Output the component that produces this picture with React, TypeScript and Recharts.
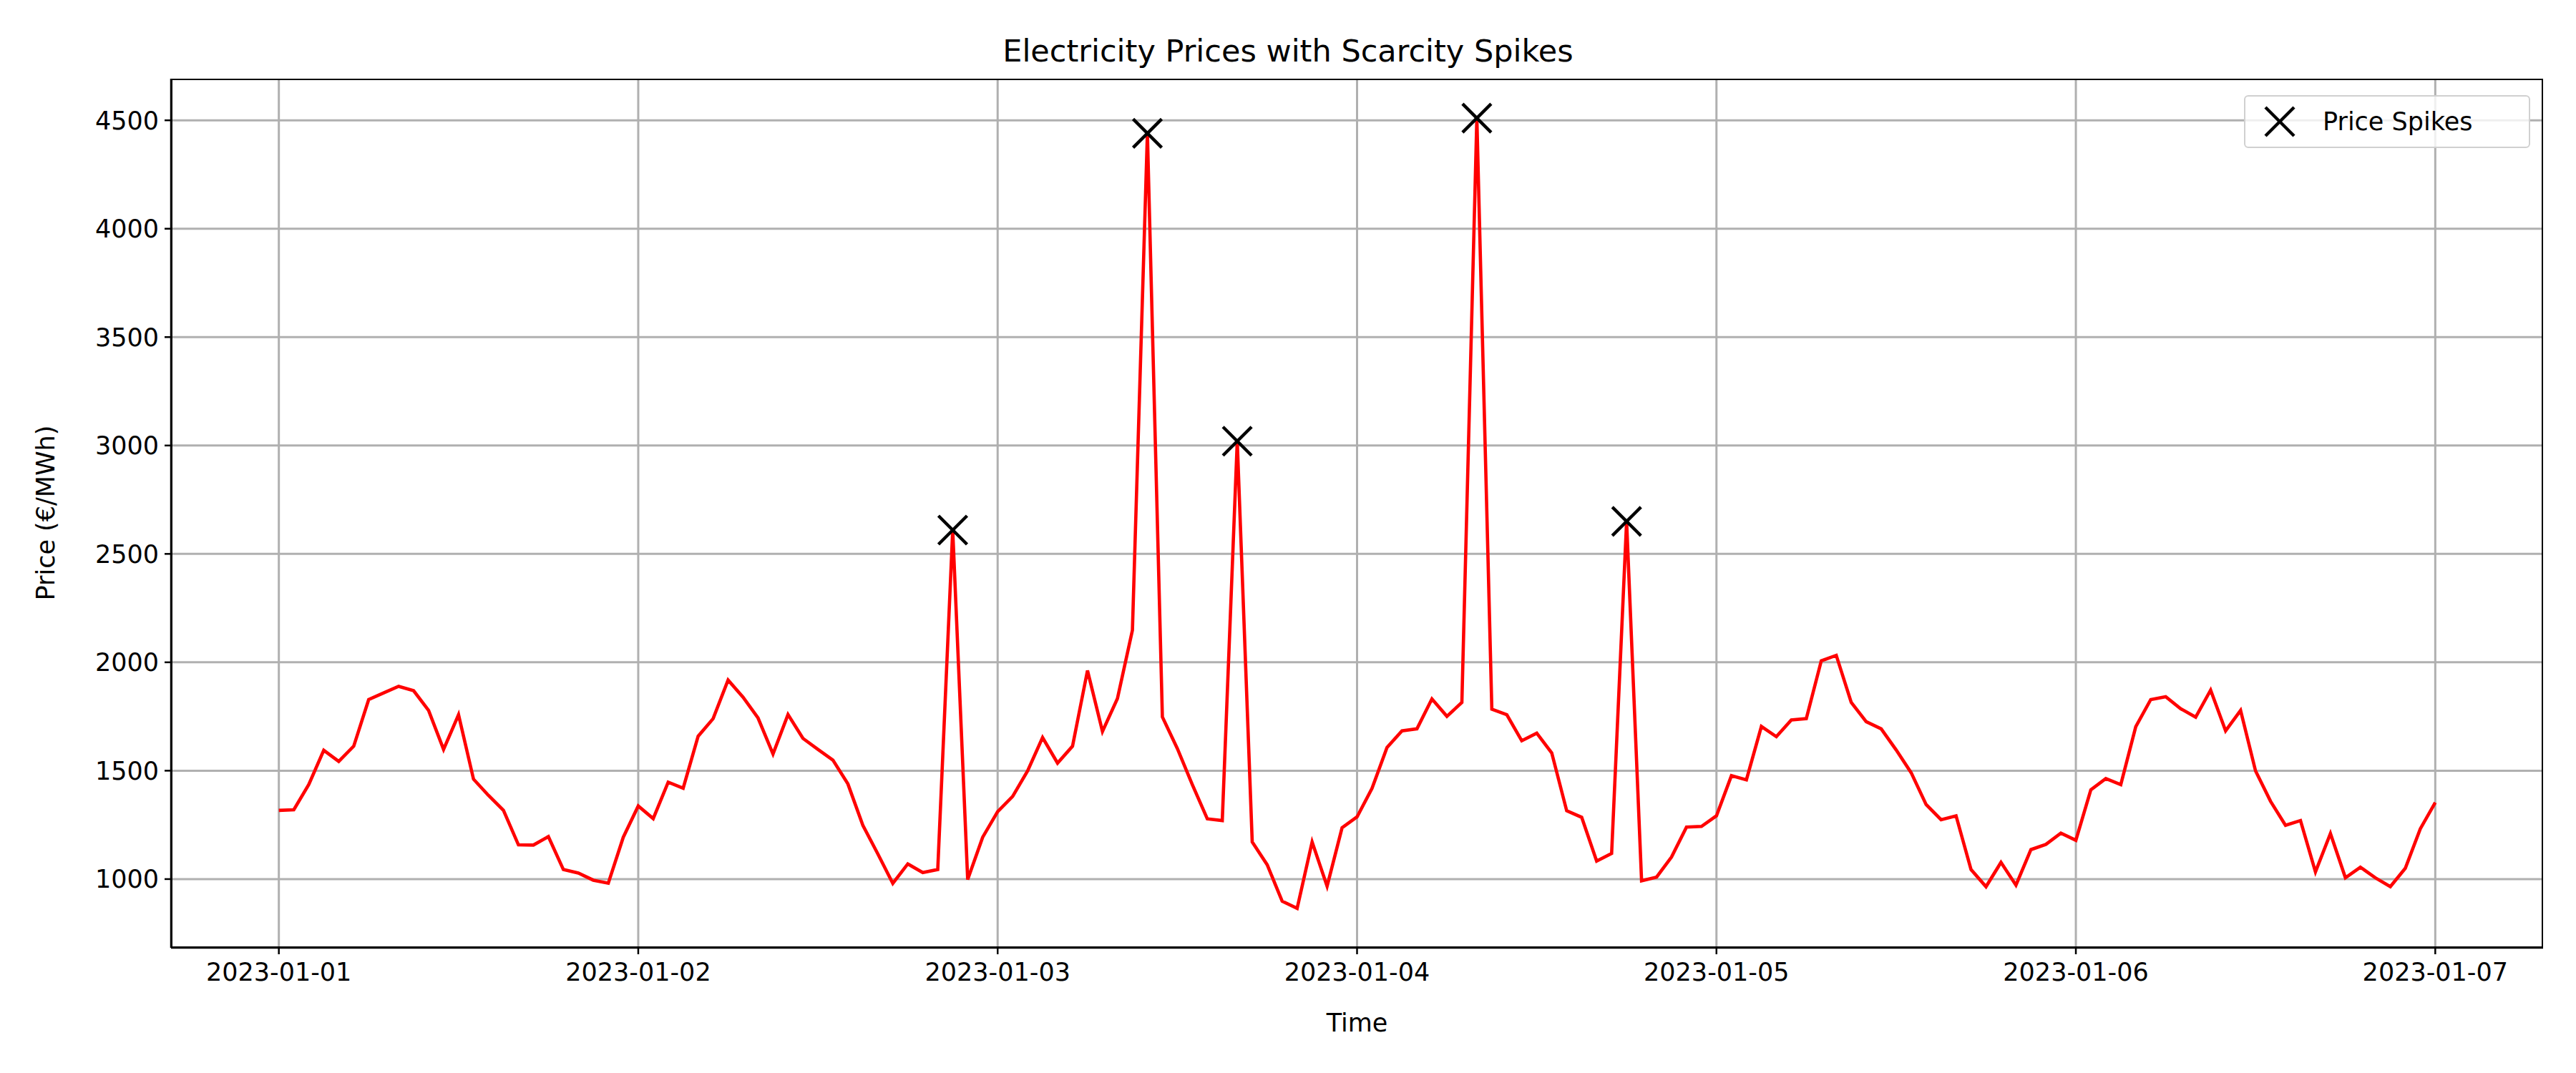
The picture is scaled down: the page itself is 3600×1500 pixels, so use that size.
import React from 'react';
import { ComposedChart, Line, Scatter, XAxis, YAxis, CartesianGrid } from 'recharts';

// hourly prices, 2023-01-01 00:00 .. 2023-01-07 00:00
const prices = [
  1317, 1320, 1436, 1594, 1543, 1613, 1828, 1859, 1889, 1869, 1778, 1598, 1758, 1461, 1386, 1317, 1158, 1157, 1196, 1044, 1028, 995, 981, 1193,
  1337, 1279, 1447, 1419, 1659, 1740, 1918, 1839, 1743, 1577, 1759, 1649, 1598, 1549, 1439, 1248, 1116, 980, 1070, 1030, 1044, 2610, 998, 1193,
  1311, 1381, 1499, 1653, 1535, 1613, 1962, 1681, 1833, 2148, 4440, 1748, 1602, 1436, 1278, 1270, 3020, 1171, 1066, 898, 865, 1171, 967, 1237,
  1287, 1419, 1607, 1684, 1693, 1831, 1751, 1815, 4510, 1784, 1758, 1638, 1673, 1582, 1315, 1285, 1083, 1118, 2650, 992, 1009, 1102, 1240, 1243,
  1292, 1477, 1458, 1704, 1657, 1734, 1740, 2007, 2032, 1815, 1726, 1693, 1596, 1491, 1344, 1274, 1292, 1044, 965, 1077, 972, 1136, 1160, 1212,
  1179, 1412, 1464, 1436, 1703, 1828, 1841, 1786, 1747, 1872, 1684, 1778, 1499, 1359, 1248, 1270, 1033, 1210, 1006, 1055, 1006, 965, 1050, 1232,
  1353,
];
const spikeHours = [45, 58, 64, 80, 90];
const dayLabels = ['2023-01-01', '2023-01-02', '2023-01-03', '2023-01-04', '2023-01-05', '2023-01-06', '2023-01-07'];
const dayTicks = [0, 24, 48, 72, 96, 120, 144];
const yTicks = [1000, 1500, 2000, 2500, 3000, 3500, 4000, 4500];

const lineData = prices.map((p, i) => ({ h: i, price: p }));
const spikeData = spikeHours.map((h) => ({ h, price: prices[h] }));

const FONT = '"DejaVu Sans", sans-serif';

const Cross = (props: any) => {
  const { cx, cy } = props;
  const r = 20;
  return (
    <g stroke="#000" strokeWidth={4.5}>
      <line x1={cx - r} y1={cy - r} x2={cx + r} y2={cy + r} />
      <line x1={cx - r} y1={cy + r} x2={cx + r} y2={cy - r} />
    </g>
  );
};

export default function App() {
  return (
    <div style={{ position: 'absolute', left: 0, top: 0, width: 3600, height: 1500, background: '#fff' }}>
      <div style={{ position: 'absolute', top: 46, width: 3600, left: 0, textAlign: 'center', fontFamily: FONT, fontSize: 43 }}>
        Electricity Prices with Scarcity Spikes
      </div>
      <div style={{ position: 'absolute', top: 1410, left: 239, width: 3315, textAlign: 'center', fontFamily: FONT, fontSize: 35 }}>
        Time
      </div>
      <div style={{
        position: 'absolute', left: 64, top: 717, transform: 'translate(-50%, -50%) rotate(-90deg)',
        fontFamily: FONT, fontSize: 35, whiteSpace: 'nowrap',
      }}>
        Price (€/MWh)
      </div>
      <ComposedChart width={3600} height={1500} data={lineData}
        margin={{ top: 110, right: 46, left: 109, bottom: 75 }}>
        <CartesianGrid stroke="#b0b0b0" strokeWidth={3} verticalValues={dayTicks} horizontalValues={yTicks} />
        <XAxis dataKey="h" type="number" domain={[-7.2, 151.2]} ticks={dayTicks} height={100}
          tickFormatter={(v: number) => dayLabels[dayTicks.indexOf(v)]}
          tick={{ fill: '#000', fontSize: 35, fontFamily: FONT, dy: 10 }}
          stroke="#000" strokeWidth={2.5} tickSize={9} allowDataOverflow />
        <YAxis type="number" domain={[683, 4692]} ticks={yTicks} width={130}
          tick={{ fill: '#000', fontSize: 35, fontFamily: FONT, dx: -6 }}
          stroke="#000" strokeWidth={2.5} tickSize={9} allowDataOverflow />
        <Line dataKey="price" stroke="#ff0000" strokeWidth={4.6} dot={false} isAnimationActive={false} />
        <Scatter data={spikeData} dataKey="price" name="Price Spikes" shape={<Cross />} isAnimationActive={false} />
      </ComposedChart>
      <div style={{
        position: 'absolute', left: 239, top: 110, width: 3315, height: 1215,
        border: '2.5px solid #000', boxSizing: 'border-box', pointerEvents: 'none',
      }} />
      <div style={{
        position: 'absolute', left: 3136, top: 133, width: 400, height: 74,
        border: '2px solid #d0d0d0', borderRadius: 6, background: 'rgba(255,255,255,0.8)',
        display: 'flex', alignItems: 'center', fontFamily: FONT, fontSize: 35, boxSizing: 'border-box',
      }}>
        <svg width={80} height={60}>
          <Cross cx={48} cy={30} />
        </svg>
        <span style={{ marginLeft: 28 }}>Price Spikes</span>
      </div>
    </div>
  );
}
